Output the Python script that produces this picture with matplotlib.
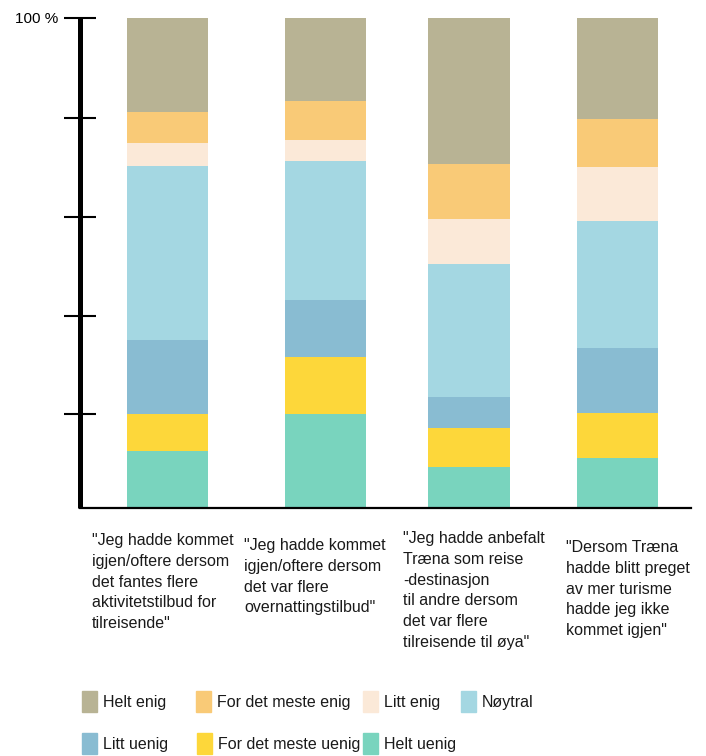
import matplotlib.pyplot as plt
from matplotlib.patches import Rectangle

plt.rcParams['font.family'] = ['Liberation Sans', 'DejaVu Sans']

# data (percent), bottom segment first
categories = [
    '"Jeg hadde kommet\nigjen/oftere dersom\ndet fantes flere\naktivitetstilbud for\ntilreisende"',
    '"Jeg hadde kommet\nigjen/oftere dersom\ndet var flere\novernattingstilbud"',
    '"Jeg hadde anbefalt\nTræna som reise\n-destinasjon\ntil andre dersom\ndet var flere\ntilreisende til øya"',
    '"Dersom Træna\nhadde blitt preget\nav mer turisme\nhadde jeg ikke\nkommet igjen"',
]
series_names = ['Helt uenig', 'For det meste uenig', 'Litt uenig', 'Nøytral',
                'Litt enig', 'For det meste enig', 'Helt enig']
helt_uenig = [11.6, 19.1, 8.3, 10.2]
mest_uenig = [7.5, 11.6, 7.9, 9.1]
litt_uenig = [15.2, 11.7, 6.3, 13.3]
noytral = [35.4, 28.4, 27.2, 25.8]
litt_enig = [4.6, 4.3, 9.1, 11.2]
mest_enig = [6.5, 7.8, 11.4, 9.6]
helt_enig = [19.2, 17.1, 29.8, 20.8]
series = [helt_uenig, mest_uenig, litt_uenig, noytral, litt_enig, mest_enig, helt_enig]
yticks = [19.1, 39.2, 59.4, 79.6, 100]
ytick_labels = ['', '', '', '', '100 %']

colors = ['#79d4be', '#fdd73a', '#89bcd2', '#a4d7e2', '#fbe9d8', '#f9ca77', '#b8b394']

W, H = 706, 756
fig = plt.figure(figsize=(W / 100, H / 100), dpi=100)
ax = fig.add_axes([80 / W, (H - 507.7) / H, 611 / W, 490.2 / H])

xpos = [0, 1.051, 2.01, 3.0]
bottom = [0] * len(xpos)
for vals, col in zip(series, colors):
    ax.bar(xpos, vals, width=0.543, bottom=bottom, color=col, edgecolor='none')
    bottom = [b + v for b, v in zip(bottom, vals)]

ax.set_xlim(-0.585, 3.489)
ax.set_ylim(0, 100)
ax.set_xticks([])
ax.set_yticks(yticks)
ax.set_yticklabels(ytick_labels, fontsize=11)
ax.tick_params(axis='y', direction='inout', length=23, width=1.5, pad=4)
for s in ['top', 'right']:
    ax.spines[s].set_visible(False)
ax.spines['left'].set_linewidth(3.6)
ax.spines['bottom'].set_linewidth(1.6)
ax.spines['left'].set_capstyle('butt')

# category labels
label_x = [92, 244, 403, 566]
label_y = [533, 538, 531, 540]
for txt, lx, ly in zip(categories, label_x, label_y):
    fig.text(lx / W, 1 - ly / H, txt, ha='left', va='top', fontsize=11.5,
             linespacing=1.48, color='#1a1a1a')

# legend
leg_order = ['Helt enig', 'For det meste enig', 'Litt enig', 'Nøytral',
             'Litt uenig', 'For det meste uenig', 'Helt uenig']
leg_x = [82, 196, 363, 461, 82, 197, 363]
leg_y = [691, 691, 691, 691, 733, 733, 733]
for name, lx, ly in zip(leg_order, leg_x, leg_y):
    col = colors[series_names.index(name)]
    fig.patches.append(Rectangle((lx / W, 1 - (ly + 21) / H), 15 / W, 21 / H,
                                 transform=fig.transFigure, color=col))
    fig.text((lx + 21) / W, 1 - (ly + 11) / H, name, ha='left', va='center',
             fontsize=11.5, color='#1a1a1a')

fig.savefig('out.png', dpi=100)
